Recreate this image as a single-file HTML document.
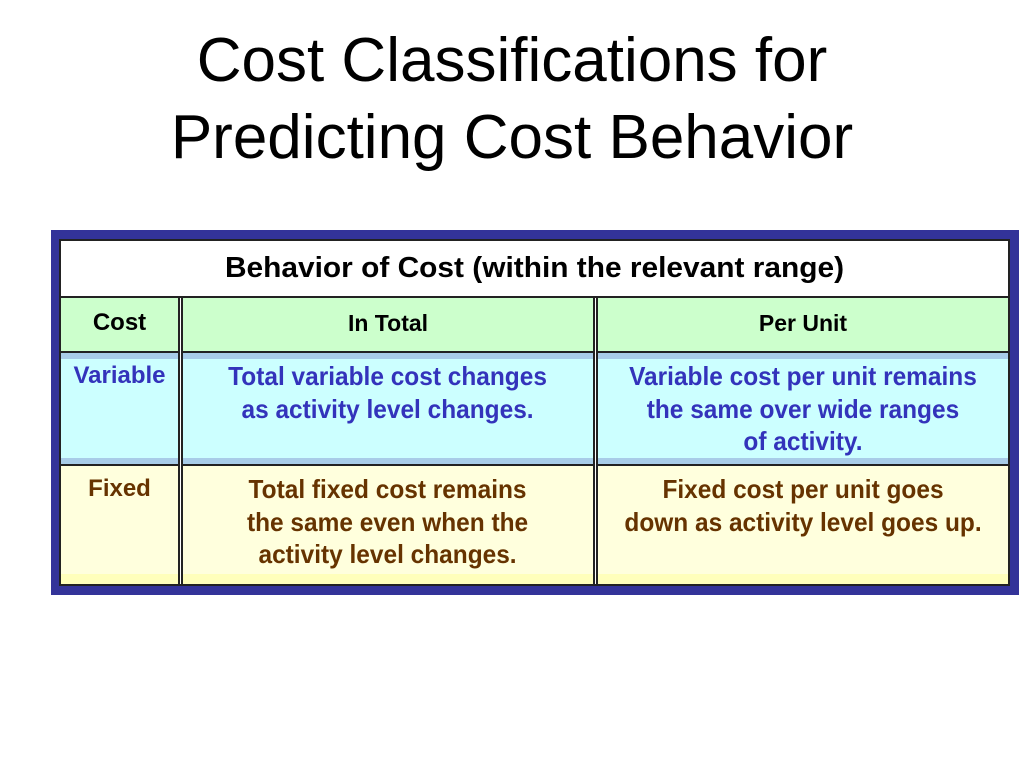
<!DOCTYPE html>
<html><head><style>
body{margin:0;width:1024px;height:768px;background:#fff;position:relative;font-family:"Liberation Sans",Arial,sans-serif;overflow:hidden}
.t{position:absolute;left:0;width:1024px;text-align:center;font-size:62px;color:#000;line-height:77px}
.a{position:absolute;box-sizing:border-box}
.c{position:absolute;text-align:center;font-weight:bold;font-size:26px;line-height:32.5px}
.c span{display:inline-block;transform:scaleX(0.94);transform-origin:center}
.h{font-size:23px}.h span{transform:none}
.v{color:#3333bb}.f{color:#663300}
</style></head><body>
<div class="t" style="top:22px">Cost Classifications for<br>Predicting Cost Behavior</div>
<div class="a" style="left:51px;top:230px;width:968px;height:365px;background:#333399"></div>
<div class="a" style="left:59px;top:239px;width:951px;height:347px;background:#222"></div>
<div class="a" style="left:61px;top:241px;width:947px;height:55px;background:#fff"></div>
<div class="c" style="left:61px;width:947px;top:252px;color:#000;font-size:29px"><span style="transform:scaleX(1.03)">Behavior of Cost (within the relevant range)</span></div>
<div class="a" style="left:61px;top:298px;width:117px;height:53px;background:#ccffcc"></div>
<div class="a" style="left:183px;top:298px;width:410px;height:53px;background:#ccffcc"></div>
<div class="a" style="left:598px;top:298px;width:410px;height:53px;background:#ccffcc"></div>
<div class="c h" style="left:61px;width:117px;top:307px;color:#000;font-size:24px"><span>Cost</span></div>
<div class="c h" style="left:183px;width:410px;top:307px;color:#000"><span>In Total</span></div>
<div class="c h" style="left:598px;width:410px;top:307px;color:#000"><span>Per Unit</span></div>
<div class="a" style="left:61px;top:353px;width:117px;height:111px;background:#ccffff;border-top:6px solid #a8cce8;border-bottom:6px solid #a8cce8"></div>
<div class="a" style="left:183px;top:353px;width:410px;height:111px;background:#ccffff;border-top:6px solid #a8cce8;border-bottom:6px solid #a8cce8"></div>
<div class="a" style="left:598px;top:353px;width:410px;height:111px;background:#ccffff;border-top:6px solid #a8cce8;border-bottom:6px solid #a8cce8"></div>
<div class="c v" style="left:61px;width:117px;top:360px;font-size:24px"><span style="transform:none">Variable</span></div>
<div class="c v" style="left:183px;width:410px;top:360px"><span>Total variable cost changes<br>as activity level changes.</span></div>
<div class="c v" style="left:598px;width:410px;top:360px"><span>Variable cost per unit remains<br>the same over wide ranges<br>of activity.</span></div>
<div class="a" style="left:61px;top:466px;width:117px;height:118px;background:#ffffdd;border-bottom:10px solid #ffffbb"></div>
<div class="a" style="left:183px;top:466px;width:410px;height:118px;background:#ffffdd;border-bottom:10px solid #ffffbb"></div>
<div class="a" style="left:598px;top:466px;width:410px;height:118px;background:#ffffdd;border-bottom:10px solid #ffffbb"></div>
<div class="c f" style="left:61px;width:117px;top:473px;font-size:24px"><span style="transform:none">Fixed</span></div>
<div class="c f" style="left:183px;width:410px;top:473px"><span>Total fixed cost remains<br>the same even when the<br>activity level changes.</span></div>
<div class="c f" style="left:598px;width:410px;top:473px"><span>Fixed cost per unit goes<br>down as activity level goes up.</span></div>
<div class="a" style="left:180px;top:298px;width:1px;height:286px;background:#fff"></div>
<div class="a" style="left:595px;top:298px;width:1px;height:286px;background:#fff"></div>
</body></html>
